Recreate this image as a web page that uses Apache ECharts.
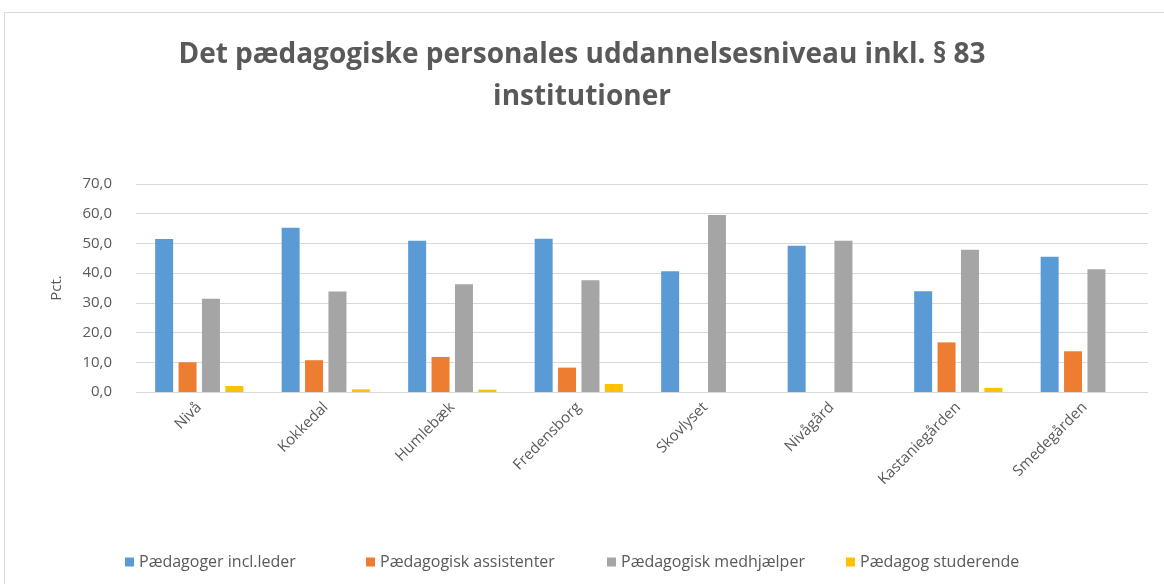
<!DOCTYPE html>
<html>
<head>
<meta charset="utf-8">
<script src="https://cdn.jsdelivr.net/npm/echarts@6/dist/echarts.min.js"></script>
<style>
  html, body { margin: 0; padding: 0; background: #fff; }
  #chart { width: 1164px; height: 584px; }
</style>
</head>
<body>
<div id="chart"></div>
<script>
const categories = ['Nivå', 'Kokkedal', 'Humlebæk', 'Fredensborg', 'Skovlyset', 'Nivågård', 'Kastaniegården', 'Smedegården'];
const seriesNames = ['Pædagoger incl.leder', 'Pædagogisk assistenter', 'Pædagogisk medhjælper', 'Pædagog studerende'];
const paedagoger = [51.5, 55.3, 50.9, 51.6, 40.6, 49.2, 33.9, 45.5];
const assistenter = [10.0, 10.7, 11.8, 8.2, 0, 0, 16.7, 13.7];
const medhjaelper = [31.4, 33.8, 36.3, 37.6, 59.6, 50.9, 47.9, 41.3];
const studerende = [2.0, 0.9, 0.8, 2.7, 0, 0, 1.4, 0];
const colors = ['#5B9BD5', '#ED7D31', '#A5A5A5', '#FFC000'];

let myChart = echarts.init(document.getElementById('chart'));
const font = '"Open Sans", "Liberation Sans", sans-serif';
const values = [paedagoger, assistenter, medhjaelper, studerende];
const legendLeft = [120, 361, 602, 841];

let option = {
	color: colors,
	textStyle: { fontFamily: font },
	graphic: [{
		type: 'rect',
		shape: { x: 4.5, y: 12.5, width: 1175, height: 600 },
		style: { fill: 'none', stroke: '#d9d9d9', lineWidth: 1 },
		silent: true
	}],
	title: {
		text: 'Det pædagogiske personales uddannelsesniveau inkl. § 83\ninstitutioner',
		left: 'center',
		top: 29,
		textStyle: {
			fontFamily: font,
			fontSize: 28,
			fontWeight: 'bold',
			color: '#595959',
			lineHeight: 42
		}
	},
	// one legend per series so each entry sits where the original has it
	legend: seriesNames.map((name, i) => ({
		data: [name],
		left: legendLeft[i],
		top: 549,
		itemWidth: 9,
		itemHeight: 9,
		itemGap: 0,
		icon: 'rect',
		textStyle: { fontFamily: font, fontSize: 16, color: '#595959' }
	})),
	grid: {
		left: 136,
		right: 16,
		top: 184,
		bottom: 192,
		containLabel: false
	},
	xAxis: {
		type: 'category',
		data: categories,
		axisLine: { lineStyle: { color: '#d9d9d9' } },
		axisTick: { show: false },
		axisLabel: {
			interval: 0,
			rotate: 45,
			color: '#595959',
			fontSize: 15,
			margin: 13
		}
	},
	yAxis: {
		type: 'value',
		min: 0,
		max: 70,
		interval: 10,
		name: 'Pct.',
		nameLocation: 'middle',
		nameGap: 72,
		nameTextStyle: { color: '#595959', fontSize: 15 },
		axisLine: { show: false },
		axisTick: { show: false },
		axisLabel: {
			color: '#595959',
			fontSize: 15,
			margin: 24,
			formatter: v => v.toFixed(1).replace('.', ',')
		},
		splitLine: { lineStyle: { color: '#d9d9d9', width: 1 } }
	},
	series: seriesNames.map((name, i) => ({
		name: name,
		type: 'bar',
		data: values[i],
		barWidth: 18,
		barGap: '30%'
	}))
};

myChart.setOption(option);
</script>
</body>
</html>
